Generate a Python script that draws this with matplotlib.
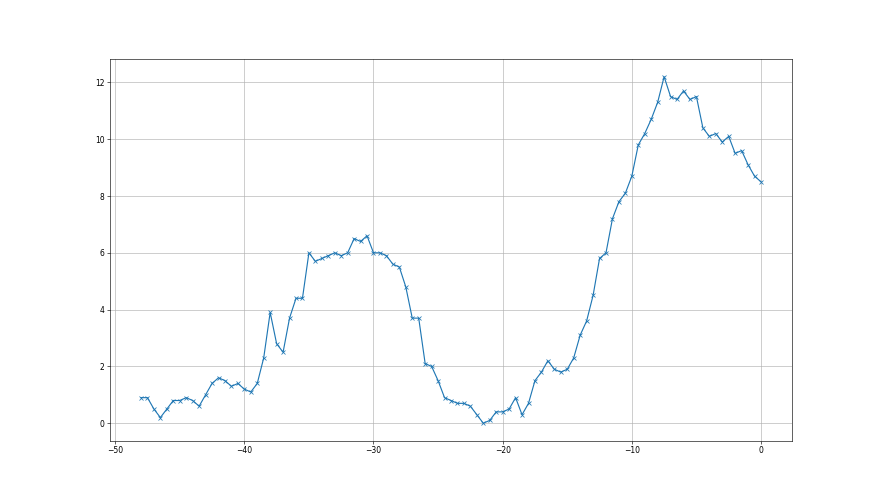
import matplotlib
matplotlib.use("Agg")
import matplotlib.pyplot as plt
import numpy as np

# x positions every 0.5 from -48 to 0
x = np.arange(-48, 0.01, 0.5)

y = [0.9, 0.9, 0.5, 0.2, 0.5, 0.8, 0.8, 0.9, 0.8, 0.6,
     1.0, 1.4, 1.6, 1.5, 1.3, 1.4, 1.2, 1.1, 1.4, 2.3,
     3.9, 2.8, 2.5, 3.7, 4.4, 4.4, 6.0, 5.7, 5.8, 5.9,
     6.0, 5.9, 6.0, 6.5, 6.4, 6.6, 6.0, 6.0, 5.9, 5.6,
     5.5, 4.8, 3.7, 3.7, 2.1, 2.0, 1.5, 0.9, 0.8, 0.7,
     0.7, 0.6, 0.3, 0.0, 0.1, 0.4, 0.4, 0.5, 0.9, 0.3,
     0.7, 1.5, 1.8, 2.2, 1.9, 1.8, 1.9, 2.3, 3.1, 3.6,
     4.5, 5.8, 6.0, 7.2, 7.8, 8.1, 8.7, 9.8, 10.2, 10.7,
     11.3, 12.2, 11.5, 11.4, 11.7, 11.4, 11.5, 10.4, 10.1, 10.2,
     9.9, 10.1, 9.5, 9.6, 9.1, 8.7, 8.5]

fig = plt.figure(figsize=(16, 9), dpi=55)
ax = fig.add_subplot(111)
ax.plot(x, y, marker='x')
ax.grid(True)
plt.savefig("out.png", dpi=55)
